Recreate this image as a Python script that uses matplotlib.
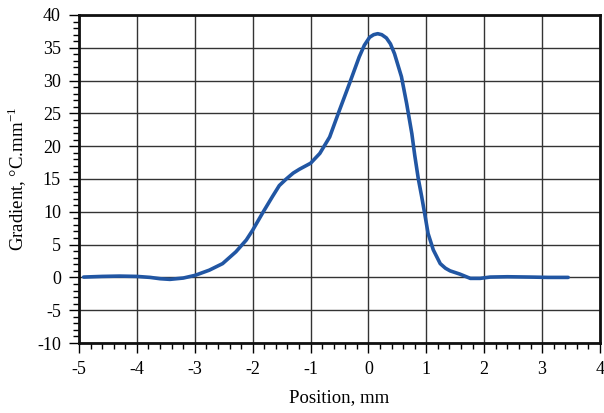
import numpy as np
import matplotlib
matplotlib.use("Agg")
import matplotlib.pyplot as plt
from matplotlib.ticker import MultipleLocator

position = [-4.92, -4.6, -4.3, -4.0, -3.77, -3.6, -3.43, -3.2, -3.0, -2.75,
            -2.52, -2.29, -2.11, -2.0, -1.83, -1.66, -1.54, -1.42, -1.3, -1.19,
            -1.0, -0.84, -0.67, -0.5, -0.33, -0.16, -0.07, 0.02, 0.09, 0.16,
            0.23, 0.31, 0.38, 0.45, 0.57, 0.66, 0.75, 0.80, 0.86, 0.92,
            0.98, 1.03, 1.12, 1.24, 1.33, 1.41, 1.58, 1.76, 1.93, 2.1,
            2.4, 2.8, 3.1, 3.45]
gradient = [0.05, 0.15, 0.2, 0.15, 0.0, -0.2, -0.3, -0.1, 0.3, 1.1,
            2.1, 3.9, 5.7, 7.2, 9.8, 12.3, 14.0, 15.0, 15.9, 16.5,
            17.4, 18.9, 21.4, 25.5, 29.5, 33.6, 35.4, 36.6, 37.0, 37.15,
            37.0, 36.5, 35.6, 34.1, 30.6, 26.5, 21.9, 18.6, 15.1, 12.3,
            9.3, 6.7, 4.2, 2.1, 1.4, 1.0, 0.5, -0.15, -0.15, 0.05,
            0.1, 0.05, 0.0, 0.0]

plt.rcParams['font.family'] = ['Liberation Serif', 'DejaVu Serif']
plt.rcParams['axes.unicode_minus'] = False
plt.rcParams['mathtext.fontset'] = 'custom'
plt.rcParams['mathtext.rm'] = 'Liberation Serif'

fig = plt.figure(figsize=(6.04, 4.13), dpi=100)
ax = fig.add_axes([79/604, 1 - 343/413, (600-79)/604, (343-15)/413])

ax.plot(position, gradient, color='#2156a3', lw=2.6,
        solid_capstyle='round', solid_joinstyle='round', zorder=3)

ax.set_xlim(-5, 4)
ax.set_ylim(-10, 40)
ax.xaxis.set_major_locator(MultipleLocator(1))
ax.xaxis.set_minor_locator(MultipleLocator(0.2))
ax.yaxis.set_major_locator(MultipleLocator(5))
ax.yaxis.set_minor_locator(MultipleLocator(1))
ax.grid(True, which='major', color='#333333', lw=1.0)
for s in ax.spines.values():
    s.set_linewidth(2.0)
    s.set_color('#111111')
ax.tick_params(which='major', direction='out', length=7, width=1.0, labelsize=13, pad=6)
ax.tick_params(which='minor', direction='out', length=4, width=1.0)
ax.set_xlabel('Position, mm', fontsize=13.5, labelpad=8)
ax.set_ylabel('Gradient, °C.mm$^{\\mathregular{-1}}$', fontsize=13.5, labelpad=6)

fig.savefig('out.png', dpi=100)
